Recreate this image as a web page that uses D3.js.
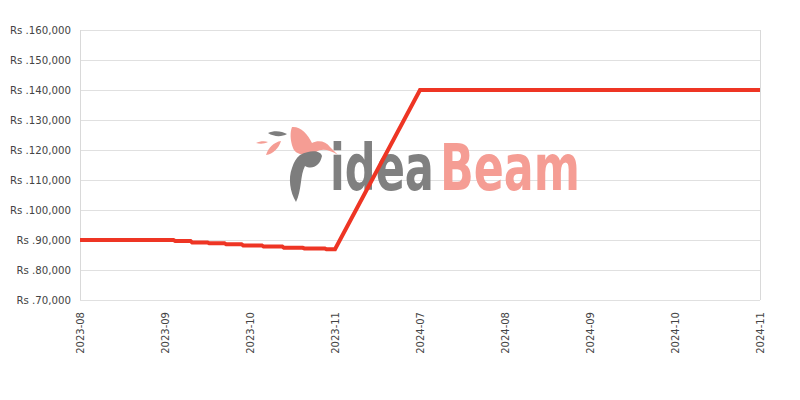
<!DOCTYPE html>
<html><head><meta charset="utf-8">
<script src="https://cdn.jsdelivr.net/npm/d3@7"></script>
<style>body{margin:0;background:#fff}svg{display:block}</style>
</head><body>
<svg id="c" width="800" height="400"></svg>
<script>
const categories = ["2023-08","2023-09","2023-10","2023-11","2024-07","2024-08","2024-09","2024-10","2024-11"];
const yTicks = [70000,80000,90000,100000,110000,120000,130000,140000,150000,160000];
// price points: position in category units (0 = 2023-08) and price
const pointPos   = [0, 1.1, 1.12, 1.3, 1.32, 1.5, 1.52, 1.7, 1.72, 1.9, 1.92, 2.14, 2.16, 2.38, 2.4, 2.62, 2.64, 2.88, 2.9, 3, 4, 8];
const pointPrice = [90000, 90000, 89700, 89700, 89200, 89200, 88900, 88900, 88600, 88600, 88200, 88200, 87800, 87800, 87400, 87400, 87200, 87200, 86900, 86900, 140000, 140000];

const svg = d3.select("#c");
const m = {l:80, r:40, t:30, b:100};
const W = 800, H = 400;
const x = d3.scaleLinear().domain([0, categories.length-1]).range([m.l, W-m.r]);
const y = d3.scaleLinear().domain([70000,160000]).range([H-m.b, m.t]);
const fmt = v => "Rs ." + d3.format(",")(v);
const FONT = "'DejaVu Sans', Verdana, sans-serif";

// grid
const g = svg.append("g");
g.selectAll("line.h").data(yTicks).enter().append("line")
  .attr("x1", m.l).attr("x2", W-m.r)
  .attr("y1", d=>y(d)+0.5).attr("y2", d=>y(d)+0.5)
  .attr("stroke", "#e0e0e0").attr("stroke-width",1);
g.append("line").attr("x1", m.l+0.5).attr("x2", m.l+0.5).attr("y1", m.t).attr("y2", H-m.b).attr("stroke","#d9d9d9");
g.append("line").attr("x1", W-m.r+0.5).attr("x2", W-m.r+0.5).attr("y1", m.t).attr("y2", H-m.b).attr("stroke","#d9d9d9");

// watermark (scaled horizontally to fit its box)
const wm = svg.append("g");
function wmText(str, x0, w, color) {
  const t = wm.append("text").attr("x", 0).attr("y", 0).attr("font-family", FONT)
    .attr("font-size", 64).attr("font-weight","bold").attr("fill", color).text(str);
  const nat = t.node().getComputedTextLength();
  t.attr("transform", `translate(${x0},190) scale(${w/nat},1)`);
}
wmText("idea", 330, 104, "#808080");
wmText("Beam", 440, 140, "#f59d94");
// bird logo
wm.append("path").attr("d","M292,127 C300,126 308,134 312,143 C318,140 326,141 330,147 L338,155 C330,150 322,148 316,152 C308,156 296,156 293,148 C290,140 290,132 292,127 Z").attr("fill","#f59d94");
wm.append("path").attr("d","M300,155 C310,150 320,150 322,156 C320,166 312,170 305,166 C300,175 302,190 296,202 C290,192 288,178 292,168 C294,162 296,158 300,155 Z").attr("fill","#7d7d7d");
wm.append("path").attr("d","M268,133 C274,130 282,131 287,134 C282,137 274,137 268,133 Z").attr("fill","#7d7d7d");
wm.append("path").attr("d","M266,155 C268,148 274,142 281,141 C279,148 273,154 266,155 Z").attr("fill","#f59d94");
wm.append("path").attr("d","M256,143 C260,141 265,141 268,142 C264,144 260,144 256,143 Z").attr("fill","#f59d94");

// y labels
svg.append("g").selectAll("text").data(yTicks).enter().append("text")
  .attr("x", 71).attr("y", d=>y(d)+4).attr("text-anchor","end")
  .attr("font-family", FONT).attr("font-size", 10.2).attr("fill","#444")
  .text(fmt);

// x labels
svg.append("g").selectAll("text").data(categories).enter().append("text")
  .attr("transform", (d,i)=>`translate(${x(i)+4},${H-m.b+12}) rotate(-90)`)
  .attr("text-anchor","end")
  .attr("font-family", FONT).attr("font-size", 10).attr("fill","#444")
  .text(d=>d);

// line
const pts = pointPos.map((p,i)=>[p, pointPrice[i]]);
svg.append("path").datum(pts)
  .attr("d", d3.line().x(d=>x(d[0])).y(d=>y(d[1])))
  .attr("fill","none").attr("stroke","#ee3524").attr("stroke-width",4).attr("stroke-linejoin","miter");
</script>
</body></html>
